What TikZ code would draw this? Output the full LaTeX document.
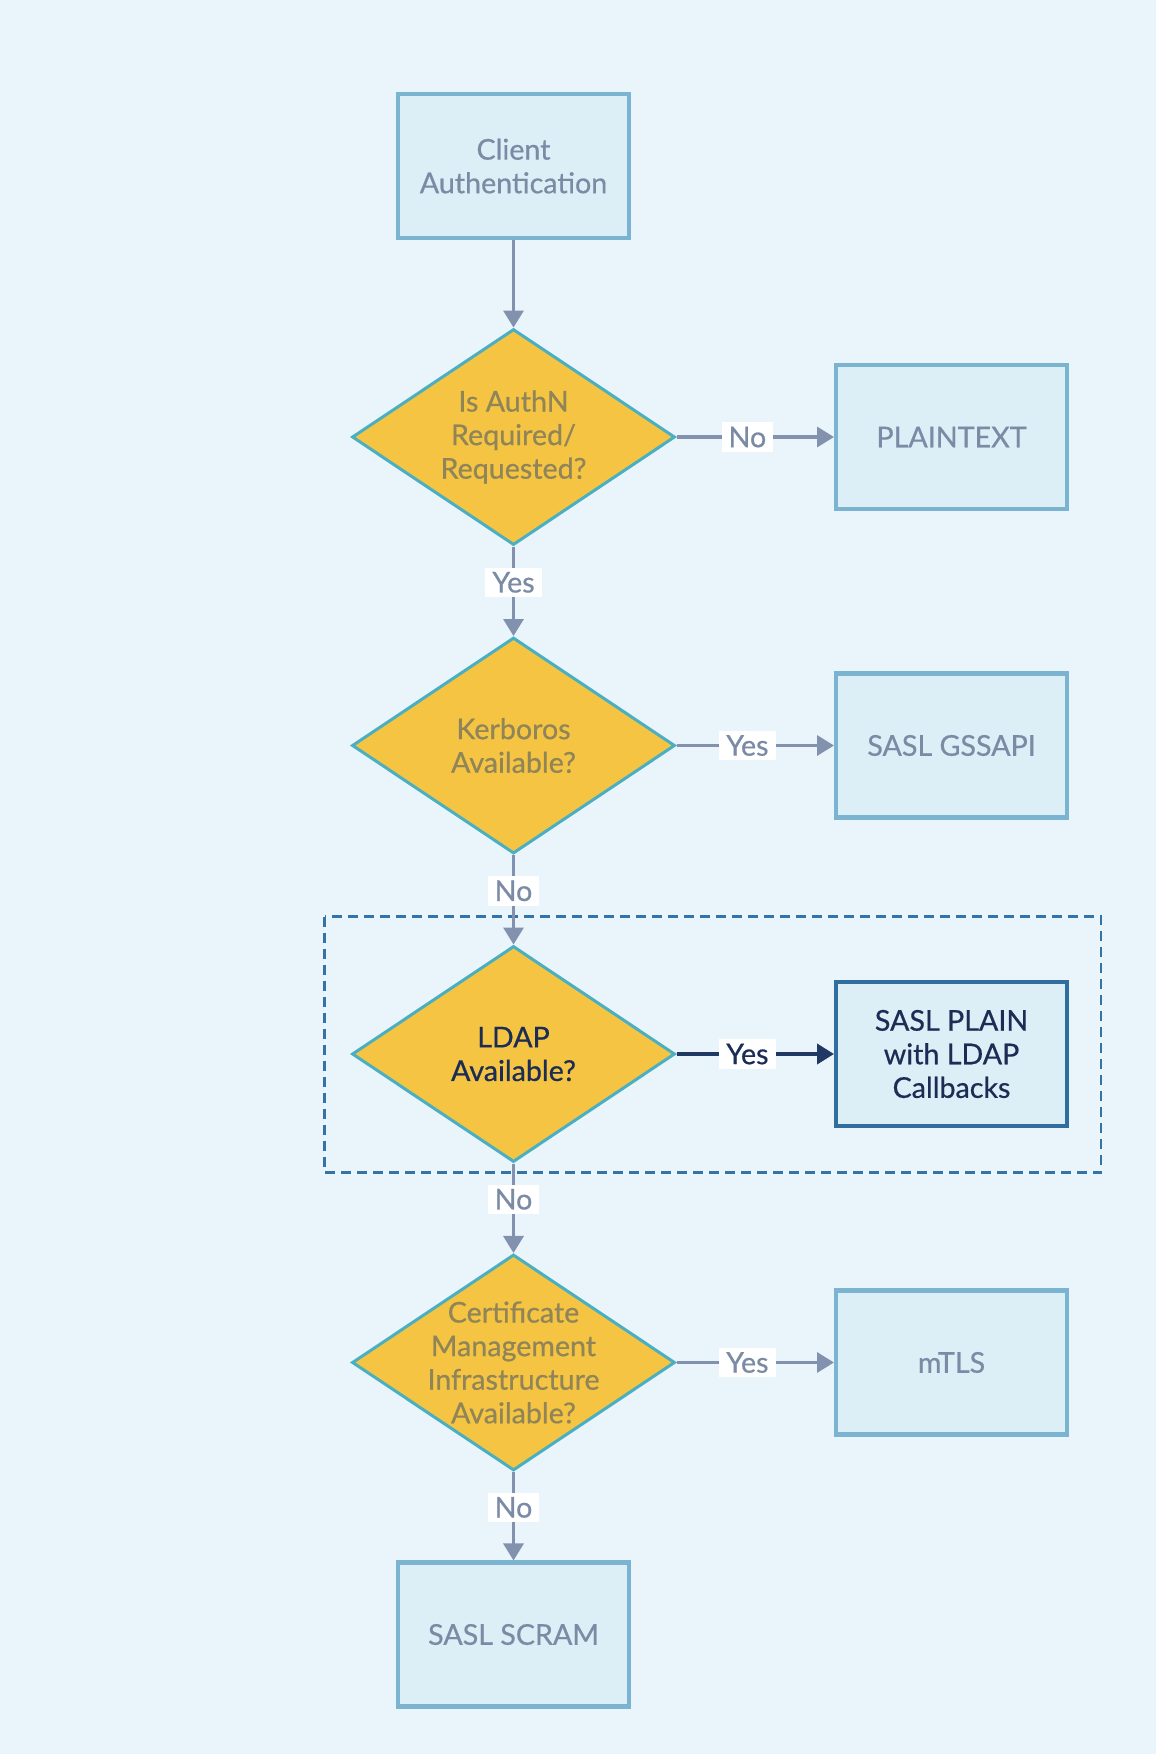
\documentclass[tikz,border=0pt]{standalone}
\usepackage{fontspec}
\setmainfont{Lato}[FakeBold=0.6]
\usetikzlibrary{positioning,shapes.geometric,arrows.meta,shadows,calc}
\definecolor{bgcol}{HTML}{E9F5FB}
\definecolor{boxfill}{HTML}{DCEEF6}
\definecolor{boxline}{HTML}{7BB4D0}
\definecolor{boxtext}{HTML}{7B8BA5}
\definecolor{decfill}{HTML}{F5C443}
\definecolor{decline}{HTML}{4BAFC2}
\definecolor{dectext}{HTML}{8F8558}
\definecolor{arrcol}{HTML}{8292AE}
\definecolor{navy}{HTML}{1F3864}
\definecolor{navyline}{HTML}{2F6E9E}
\definecolor{navytext}{HTML}{1C2D55}
\definecolor{framecol}{HTML}{3373A5}

\begin{document}
\begin{tikzpicture}[
  font=\fontsize{16.3}{19.1}\selectfont,
  proc/.style={rectangle, draw=boxline, fill=boxfill, line width=2.3pt, text=boxtext,
    minimum width=4.62cm, minimum height=2.88cm, align=center,
    drop shadow={shadow xshift=0.03cm, shadow yshift=-0.03cm, opacity=0.25, fill=black!50}},
  decision/.style={diamond, draw=decline, fill=decfill, line width=1.7pt,
    minimum width=6.46cm, minimum height=4.32cm, inner sep=0pt},
  dlabel/.style={text=dectext, align=center},
  arr/.style={draw=arrcol, line width=1.9pt, -{Triangle[length=0.34cm,width=0.4cm]}},
  elabel/.style={fill=white, text=boxtext, inner xsep=4pt, inner ysep=2.5pt},
  groupframe/.style={draw=framecol, line width=1.3pt, dash pattern=on 0.2cm off 0.12cm}
]
\useasboundingbox[fill=bgcol] (0,0) rectangle (23.12,-35.08);

\node [proc] (auth) at (10.27,-3.32) {Client\\Authentication};
\node [decision, below=1.75cm of auth, label={[dlabel]center:Is AuthN\\Required/\\Requested?}] (req) {};
\node [decision, below=1.79cm of req, label={[dlabel]center:Kerboros\\Available?}] (krb) {};
\node [decision, below=1.79cm of krb, label={[dlabel, text=navytext]center:LDAP\\Available?}] (ldap) {};
\node [decision, below=1.79cm of ldap, label={[dlabel]center:Certificate\\Management\\Infrastructure\\Available?}] (cert) {};
\node [proc, below=1.77cm of cert] (scram) {SASL SCRAM};

\node [proc, right=3.15cm of req] (plain) {PLAINTEXT};
\node [proc, right=3.15cm of krb] (gss) {SASL GSSAPI};
\node [proc, right=3.15cm of ldap, draw=navyline, text=navytext] (splain) {SASL PLAIN\\with LDAP\\Callbacks};
\node [proc, right=3.15cm of cert] (mtls) {mTLS};

% highlighted LDAP branch
\draw [groupframe] ($(ldap.west |- ldap.north)+(-0.52,0.56)$) rectangle ($(splain.east |- ldap.south)+(0.64,-0.18)$);

\draw [arr] (auth) -- (req);
\draw [arr] (req) -- node[elabel, pos=0.4] {Yes} (krb);
\draw [arr] (krb) -- node[elabel, pos=0.4] {No} (ldap);
\draw [arr] (ldap) -- node[elabel, pos=0.4] {No} (cert);
\draw [arr] (cert) -- node[elabel, pos=0.4] {No} (scram);

\draw [arr] (req) -- node[elabel, pos=0.45] {No} (plain);
\draw [arr] (krb) -- node[elabel, pos=0.45] {Yes} (gss);
\draw [arr, draw=navy, fill=navy, line width=2.3pt] (ldap) -- node[elabel, pos=0.45, text=navytext] {Yes} (splain);
\draw [arr] (cert) -- node[elabel, pos=0.45] {Yes} (mtls);
\end{tikzpicture}
\end{document}
